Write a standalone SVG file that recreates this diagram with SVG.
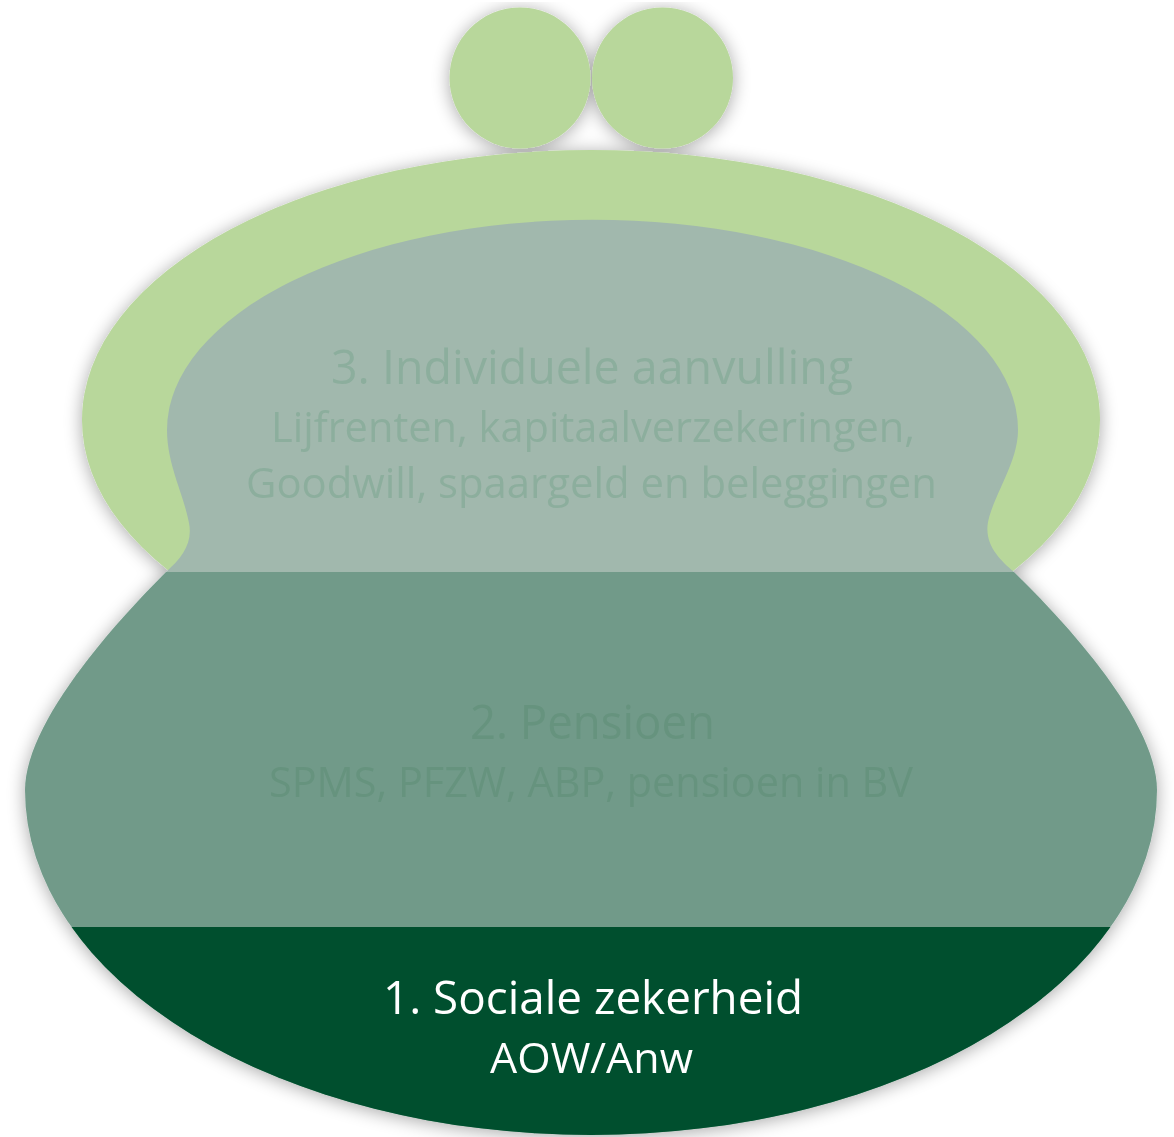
<svg xmlns="http://www.w3.org/2000/svg" width="1174" height="1137" viewBox="0 0 1174 1137">
  <defs>
    <filter id="shadow" filterUnits="userSpaceOnUse" x="0" y="0" width="1174" height="1137">
      <feGaussianBlur in="SourceAlpha" stdDeviation="9"/>
      <feOffset dx="0" dy="2" result="b"/>
      <feComponentTransfer in="b" result="s">
        <feFuncA type="linear" slope="0.35"/>
      </feComponentTransfer>
      <feMerge>
        <feMergeNode in="s"/>
        <feMergeNode in="SourceGraphic"/>
      </feMerge>
    </filter>
    <clipPath id="aboveNeck"><rect x="0" y="0" width="1174" height="573"/></clipPath>
    <clipPath id="belowLine"><rect x="0" y="927" width="1174" height="210"/></clipPath>
  </defs>
  <style>
    .t { font-family: "Open Sans", "Noto Sans", "Liberation Sans", sans-serif; text-anchor: middle; }
    .t3 { fill: #8CAE9D; }
    .t2 { fill: #66937E; }
    .t1 { fill: #FFFFFF; }
  </style>
  <rect width="1174" height="1137" fill="#FFFFFF"/>
  <g id="purse" filter="url(#shadow)">
    <g id="clasp">
      <circle cx="520" cy="78" r="70.5" fill="#B8D79B"/>
      <circle cx="662.5" cy="78" r="70.5" fill="#B8D79B"/>
    </g>
    <g id="frame">
      <ellipse cx="591" cy="420" rx="509" ry="270" fill="#B8D79B" clip-path="url(#aboveNeck)"/>
    </g>
    <g id="layer3">
      <path d="M167,430 A425 210 0 0 1 1018,430 C1018,462 995,492 988,522 C984,545 1000,560 1014,572 L166,572 C182,558 193,543 189,523 C184,495 167,465 167,430 Z" fill="#A1B8AD"/>
    </g>
    <g id="layer2">
      <path d="M166,572 C96,642 25,730 25,790 A566 345 0 1 0 1157,790 C1157,730 1086,642 1014,572 Z" fill="#719A89"/>
    </g>
    <g id="layer1">
      <path d="M166,572 C96,642 25,730 25,790 A566 345 0 1 0 1157,790 C1157,730 1086,642 1014,572 Z" fill="#00502E" clip-path="url(#belowLine)"/>
    </g>
  </g>
  <g id="labels">
    <text class="t t3" x="592" y="384" font-size="47" textLength="522" lengthAdjust="spacingAndGlyphs">3. Individuele aanvulling</text>
    <text class="t t3" x="593" y="442" font-size="42" textLength="644" lengthAdjust="spacingAndGlyphs">Lijfrenten, kapitaalverzekeringen,</text>
    <text class="t t3" x="591.5" y="498" font-size="42" textLength="691" lengthAdjust="spacingAndGlyphs">Goodwill, spaargeld en beleggingen</text>
    <text class="t t2" x="592.5" y="739" font-size="47" textLength="245" lengthAdjust="spacingAndGlyphs">2. Pensioen</text>
    <text class="t t2" x="591" y="797" font-size="42" textLength="644" lengthAdjust="spacingAndGlyphs">SPMS, PFZW, ABP, pensioen in BV</text>
    <text class="t t1" x="593" y="1014" font-size="45" textLength="420" lengthAdjust="spacingAndGlyphs">1. Sociale zekerheid</text>
    <text class="t t1" x="591.5" y="1073" font-size="42" textLength="203" lengthAdjust="spacingAndGlyphs">AOW/Anw</text>
  </g>
</svg>
